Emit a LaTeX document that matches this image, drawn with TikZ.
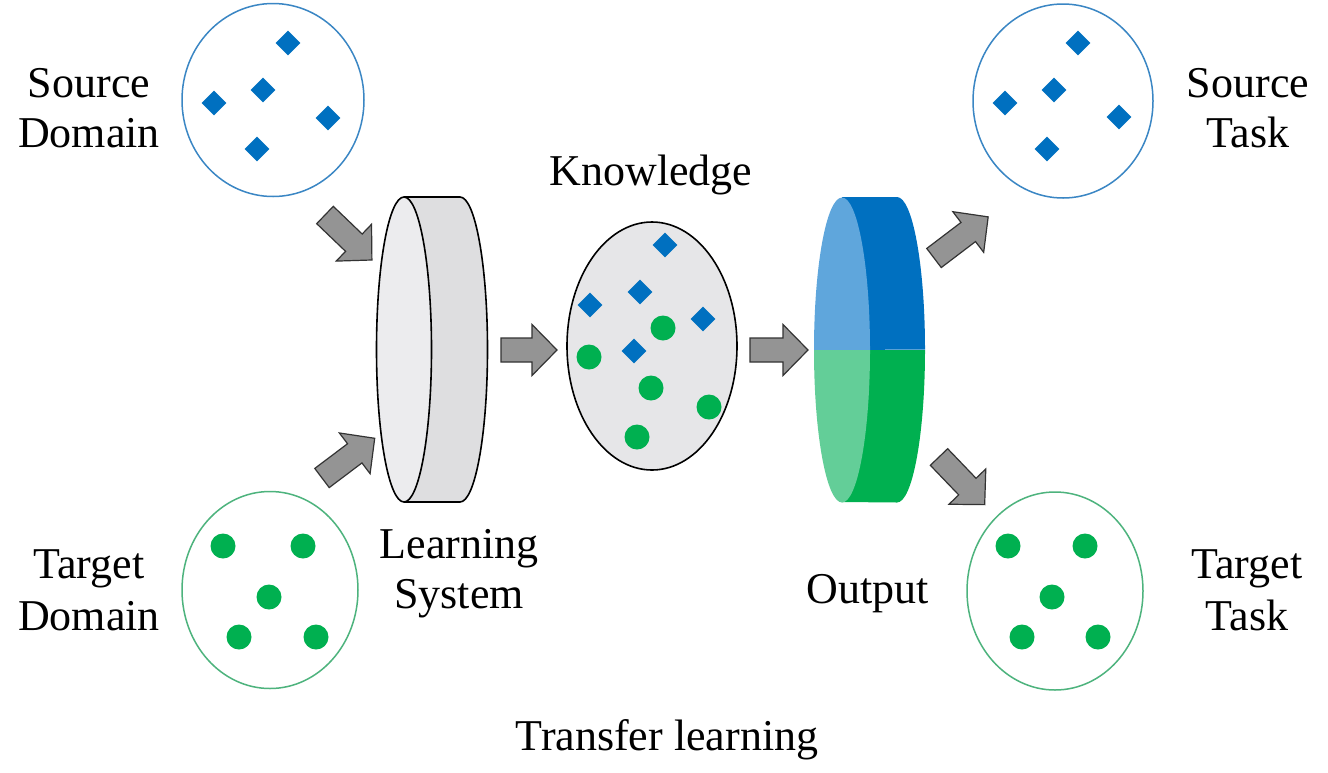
\documentclass[tikz,border=0pt]{standalone}
\usepackage{fontspec}
\setmainfont{Liberation Serif}
\usetikzlibrary{shapes.geometric}
\definecolor{dblue}{HTML}{0070C0}
\definecolor{dgreen}{HTML}{00B050}
\definecolor{ringblue}{HTML}{3A86C4}
\definecolor{ringgreen}{HTML}{4DB37D}
\definecolor{lblue}{HTML}{5FA6DC}
\definecolor{lgreen}{HTML}{63CE98}
\definecolor{arrgray}{HTML}{949494}
\definecolor{cylface}{HTML}{ECECEE}
\definecolor{cylside}{HTML}{DEDEE0}
\definecolor{knowfill}{HTML}{E6E6E8}
\tikzset{
  lbl/.style={anchor=base, inner sep=0pt, font=\fontsize{22}{25}\selectfont},
  dia/.style={diamond, fill=dblue, inner sep=0pt, minimum size=12.5pt},
  dot/.style={circle, fill=dgreen, inner sep=0pt, minimum size=12.5pt},
  bluering/.style={ellipse, draw=ringblue, line width=0.75pt, inner sep=0pt},
  greenring/.style={ellipse, draw=ringgreen, line width=0.75pt, inner sep=0pt},
  arrstyle/.style={fill=arrgray, draw=black!80, line width=0.6pt, line join=miter},
  cylline/.style={draw=black, line width=0.8pt},
  pics/barrow/.style={code={
    \draw[arrstyle] (0,-12) -- (#1-25,-12) -- (#1-25,-25.5) -- (#1,0)
      -- (#1-25,25.5) -- (#1-25,12) -- (0,12) -- cycle;}}
}
\begin{document}
\begin{tikzpicture}[x=0.5pt,y=-0.5pt]
\fill[white] (0,0) rectangle (1328,772);
\useasboundingbox (0,0) rectangle (1328,772);

% domain / task rings
\node[bluering, minimum width=91pt, minimum height=96.5pt] (sdom) at (273,100) {};
\node[greenring, minimum width=88pt, minimum height=98.5pt] (tdom) at (270,590) {};
\node[bluering, minimum width=90pt, minimum height=97pt] (stask) at (1063,101) {};
\node[greenring, minimum width=88pt, minimum height=99pt] (ttask) at (1055,591) {};

% source domain diamonds
\node[dia] (sd1) at (288,43) {};
\node[dia] (sd2) at (263,90) {};
\node[dia] (sd3) at (214,103) {};
\node[dia] (sd4) at (328,118) {};
\node[dia] (sd5) at (257,149) {};
% source task diamonds
\node[dia] (st1) at (1078,43) {};
\node[dia] (st2) at (1054,90) {};
\node[dia] (st3) at (1005,103) {};
\node[dia] (st4) at (1119,117) {};
\node[dia] (st5) at (1047,149) {};
% target domain dots
\node[dot] (td1) at (223,546) {};
\node[dot] (td2) at (303,546) {};
\node[dot] (td3) at (269,597) {};
\node[dot] (td4) at (239,637) {};
\node[dot] (td5) at (316,637) {};
% target task dots
\node[dot] (tt1) at (1008,546) {};
\node[dot] (tt2) at (1085,546) {};
\node[dot] (tt3) at (1052,597) {};
\node[dot] (tt4) at (1022,637) {};
\node[dot] (tt5) at (1098,637) {};

% learning system cylinder
\fill[cylside] (404,197) -- (460,197) arc[start angle=90, end angle=-90, x radius=13.75pt, y radius=76.25pt] -- (404,502) -- cycle;
\draw[cylline] (404,197) -- (460,197) arc[start angle=90, end angle=-90, x radius=13.75pt, y radius=76.25pt] -- (404,502);
\draw[cylline, fill=cylface] (404,349.5) ellipse [x radius=13.75pt, y radius=76.25pt];
\coordinate (lsys) at (432,350);

% knowledge
\node[ellipse, draw=black, line width=0.8pt, fill=knowfill, minimum width=85pt, minimum height=124pt, inner sep=0pt] (know) at (652,346) {};
\node[dia] (k1) at (665,245) {};
\node[dia] (k2) at (640,292) {};
\node[dia] (k3) at (590,305) {};
\node[dia] (k4) at (703,319) {};
\node[dia] (k5) at (634,351) {};
\node[dot] (k6) at (663,328) {};
\node[dot] (k7) at (589,357) {};
\node[dot] (k8) at (651,388) {};
\node[dot] (k9) at (709,407) {};
\node[dot] (k10) at (637,437) {};

% output cylinder
\fill[dblue] (842,197) -- (897,197) arc[start angle=90, end angle=0, x radius=14pt, y radius=76.25pt] -- (842,350) -- cycle;
\fill[dgreen] (925,350) arc[start angle=0, end angle=-90, x radius=14pt, y radius=76.25pt] -- (842,502) -- (842,350) -- cycle;
\fill[lblue] (870,350) arc[start angle=0, end angle=180, x radius=14pt, y radius=76.25pt] -- cycle;
\fill[lgreen] (814,350) arc[start angle=180, end angle=360, x radius=14pt, y radius=76.25pt] -- cycle;
\coordinate (outc) at (870,350);

% block arrows
\pic[rotate=-43.8] (a1) at (325,215) {barrow=65};
\pic[rotate=37] (a2) at (322,478) {barrow=66};
\pic (a3) at (501,350) {barrow=56};
\pic (a4) at (750,350) {barrow=58};
\pic[rotate=37.2] (a5) at (934,258) {barrow=68};
\pic[rotate=-46.2] (a6) at (939,457) {barrow=66};

% labels
\node[lbl] (lsd1) at (89,97) {Source};
\node[lbl] (lsd2) at (89,147) {Domain};
\node[lbl] (ltd1) at (89,578) {Target};
\node[lbl] (ltd2) at (89,630) {Domain};
\node[lbl] (lls1) at (459,558) {Learning};
\node[lbl] (lls2) at (459,608) {System};
\node[lbl] (lkn) at (651,185) {Knowledge};
\node[lbl] (lout) at (868,603) {Output};
\node[lbl] (lst1) at (1248,97) {Source};
\node[lbl] (lst2) at (1248,147) {Task};
\node[lbl] (ltt1) at (1247,578) {Target};
\node[lbl] (ltt2) at (1247,630) {Task};
\node[lbl] (ltl) at (667,750) {Transfer learning};
\end{tikzpicture}
\end{document}
